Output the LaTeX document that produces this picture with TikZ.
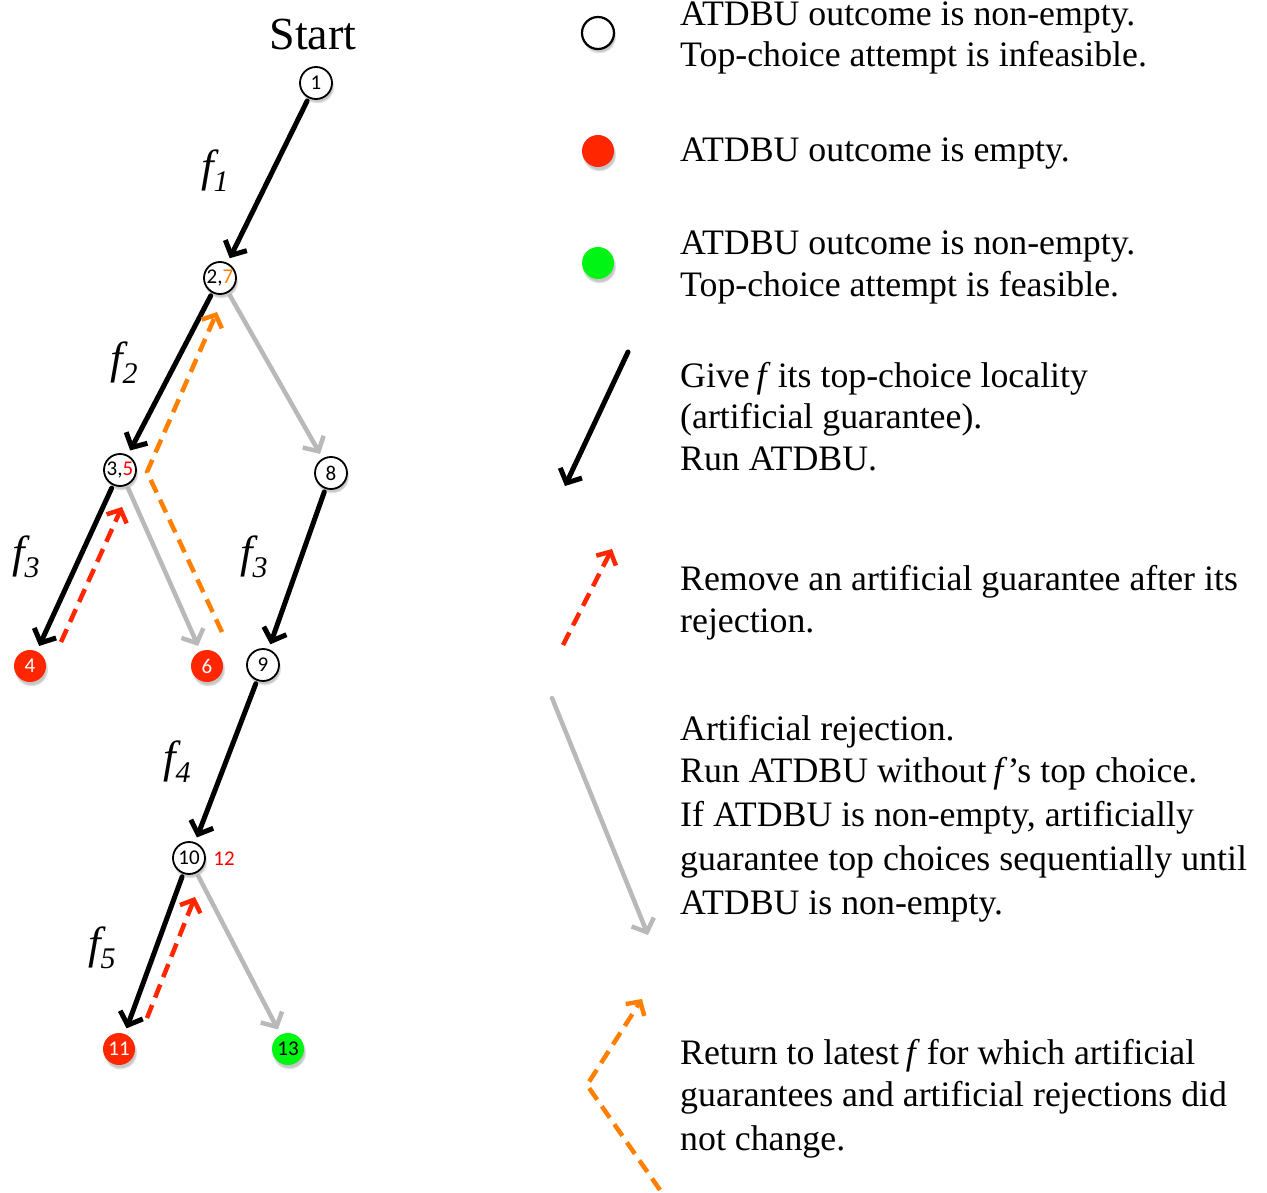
\documentclass[tikz,border=0pt]{standalone}
\usepackage{fontspec}
\setmainfont{Liberation Serif}
\newfontfamily\numfont{Carlito}
\usetikzlibrary{arrows.meta,shadows}
\definecolor{nodered}{RGB}{255,38,0}
\definecolor{nodegreen}{RGB}{0,245,20}
\definecolor{arrgray}{RGB}{185,185,185}
\definecolor{dashorange}{RGB}{255,128,0}
\definecolor{dashred}{RGB}{255,38,0}
\definecolor{numred}{RGB}{255,0,0}
\begin{document}
\begin{tikzpicture}[x=1pt,y=-1pt,
  shad/.style={circular drop shadow={shadow xshift=1pt,shadow yshift=-3pt,shadow scale=1.08,opacity=0.45}},
  tnode/.style={circle,minimum size=32pt,inner sep=0pt,outer sep=0pt,font=\numfont\fontsize{21}{21}\selectfont},
  opennode/.style={tnode,draw=black,line width=1.8pt,fill=white,shad},
  rednode/.style={tnode,fill=nodered,text=white,shad},
  greennode/.style={tnode,fill=nodegreen,text=black,shad},
  guar/.style={draw=black,line width=5pt,line cap=round,-{Straight Barb[length=11pt,width=24pt]}},
  rej/.style={draw=arrgray,line width=4.5pt,line cap=round,-{Straight Barb[length=11pt,width=24pt]}},
  remv/.style={draw=dashred,line width=4.5pt,dash pattern=on 14pt off 8pt,-{Straight Barb[length=10pt,width=22pt]}},
  retn/.style={draw=dashorange,line width=4.5pt,line join=round,dash pattern=on 14pt off 8pt,-{Straight Barb[length=10pt,width=22pt]}},
  tree/.style={shorten <=4pt,shorten >=6pt},
  legtext/.style={anchor=base west,inner sep=0pt,font=\fontsize{35.8}{41}\selectfont},
  flabel/.style={anchor=base west,inner sep=0pt,font=\fontsize{45}{45}\selectfont\itshape},
]
\useasboundingbox (0,0) rectangle (1267,1193);

% ---- title
\node[anchor=base,inner sep=0pt,font=\fontsize{46}{46}\selectfont] (start) at (313,50) {Start};

% ---- tree nodes
\node[opennode] (n1) at (316,83) {1};
\node[opennode] (n2) at (220,278) {2,\textcolor{dashorange}{7}};
\node[opennode] (n3) at (120,470) {3,\textcolor{numred}{5}};
\node[opennode] (n8) at (331,473) {8};
\node[rednode] (n4) at (30,666) {4};
\node[rednode] (n6) at (207,666) {6};
\node[opennode] (n9) at (263,665) {9};
\node[opennode] (n10) at (189,858) {10};
\node[anchor=center,inner sep=0pt,text=numred,font=\numfont\fontsize{21}{21}\selectfont] (l12) at (224,859) {12};
\node[rednode] (n11) at (119,1049) {11};
\node[greennode] (n13) at (288,1049) {13};

% ---- f labels
\newcommand{\fsub}[1]{\raisebox{-10pt}{\fontsize{30}{30}\selectfont #1}}
\node[flabel] (f1) at (201,182) {f\fsub{1}};
\node[flabel] (f2) at (110,373) {f\fsub{2}};
\node[flabel] (f3a) at (12,567) {f\fsub{3}};
\node[flabel] (f3b) at (240,567) {f\fsub{3}};
\node[flabel] (f4) at (163,772) {f\fsub{4}};
\node[flabel] (f5) at (88,958) {f\fsub{5}};

% ---- tree connectors
\draw[guar,tree] (n1) -- (n2);
\draw[guar,tree] (n2) -- (n3);
\draw[rej,tree] (n2) -- (n8);
\draw[guar,tree] (n3) -- (n4);
\draw[rej,tree] (n3) -- (n6);
\draw[guar,tree] (n8) -- (n9);
\draw[guar,tree] (n9) -- (n10);
\draw[guar,tree] (n10) -- (n11);
\draw[rej,tree] (n10) -- (n13);

\coordinate (ra1) at (61,642);  \coordinate (ra2) at (122,507);
\draw[remv] (ra1) -- (ra2);
\coordinate (rb1) at (147,1018); \coordinate (rb2) at (195,897);
\draw[remv] (rb1) -- (rb2);
\coordinate (o1) at (222,632); \coordinate (o2) at (147,472); \coordinate (o3) at (217,312);
\draw[retn] (o1) -- (o2) -- (o3);

% ---- legend symbols
\node[tnode,draw=black,line width=2.2pt,fill=white,shad] (k1) at (598,33) {};
\node[tnode,fill=nodered,shad] (k2) at (598,151) {};
\node[tnode,fill=nodegreen,shad] (k3) at (598,263) {};

\coordinate (kb1) at (628,352); \coordinate (kb2) at (565,486);
\draw[guar] (kb1) -- (kb2);
\coordinate (kr1) at (563,645); \coordinate (kr2) at (612,549);
\draw[remv] (kr1) -- (kr2);
\coordinate (kg1) at (552,698); \coordinate (kg2) at (648,935);
\draw[rej] (kg1) -- (kg2);
\coordinate (ko1) at (660,1190); \coordinate (ko2) at (587,1085); \coordinate (ko3) at (642,999);
\draw[retn] (ko1) -- (ko2) -- (ko3);

% ---- legend text
\node[legtext] (t1a) at (680,26) {ATDBU outcome is non-empty.};
\node[legtext] (t1b) at (680,67) {Top-choice attempt is infeasible.};
\node[legtext] (t2a) at (680,162) {ATDBU outcome is empty.};
\node[legtext] (t3a) at (680,255) {ATDBU outcome is non-empty.};
\node[legtext] (t3b) at (680,296) {Top-choice attempt is feasible.};
\node[legtext] (t4a) at (680,387) {Give\hspace{-2pt} \textit{f}\hspace{-2pt} its top-choice locality};
\node[legtext] (t4b) at (680,428) {(artificial guarantee).};
\node[legtext] (t4c) at (680,470) {Run ATDBU.};
\node[legtext] (t5a) at (680,590) {Remove an artificial guarantee after its};
\node[legtext] (t5b) at (680,632) {rejection.};
\node[legtext] (t6a) at (680,740) {Artificial rejection.};
\node[legtext] (t6b) at (680,782) {Run ATDBU without\hspace{-2pt} \textit{f}'s top choice.};
\node[legtext] (t6c) at (680,826) {If ATDBU is non-empty, artificially};
\node[legtext] (t6d) at (680,870) {guarantee top choices sequentially until};
\node[legtext] (t6e) at (680,914) {ATDBU is non-empty.};
\node[legtext] (t7a) at (680,1064) {Return to latest\hspace{-2pt} \textit{f}\hspace{-2pt} for which artificial};
\node[legtext] (t7b) at (680,1106) {guarantees and artificial rejections did};
\node[legtext] (t7c) at (680,1150) {not change.};
\end{tikzpicture}
\end{document}
